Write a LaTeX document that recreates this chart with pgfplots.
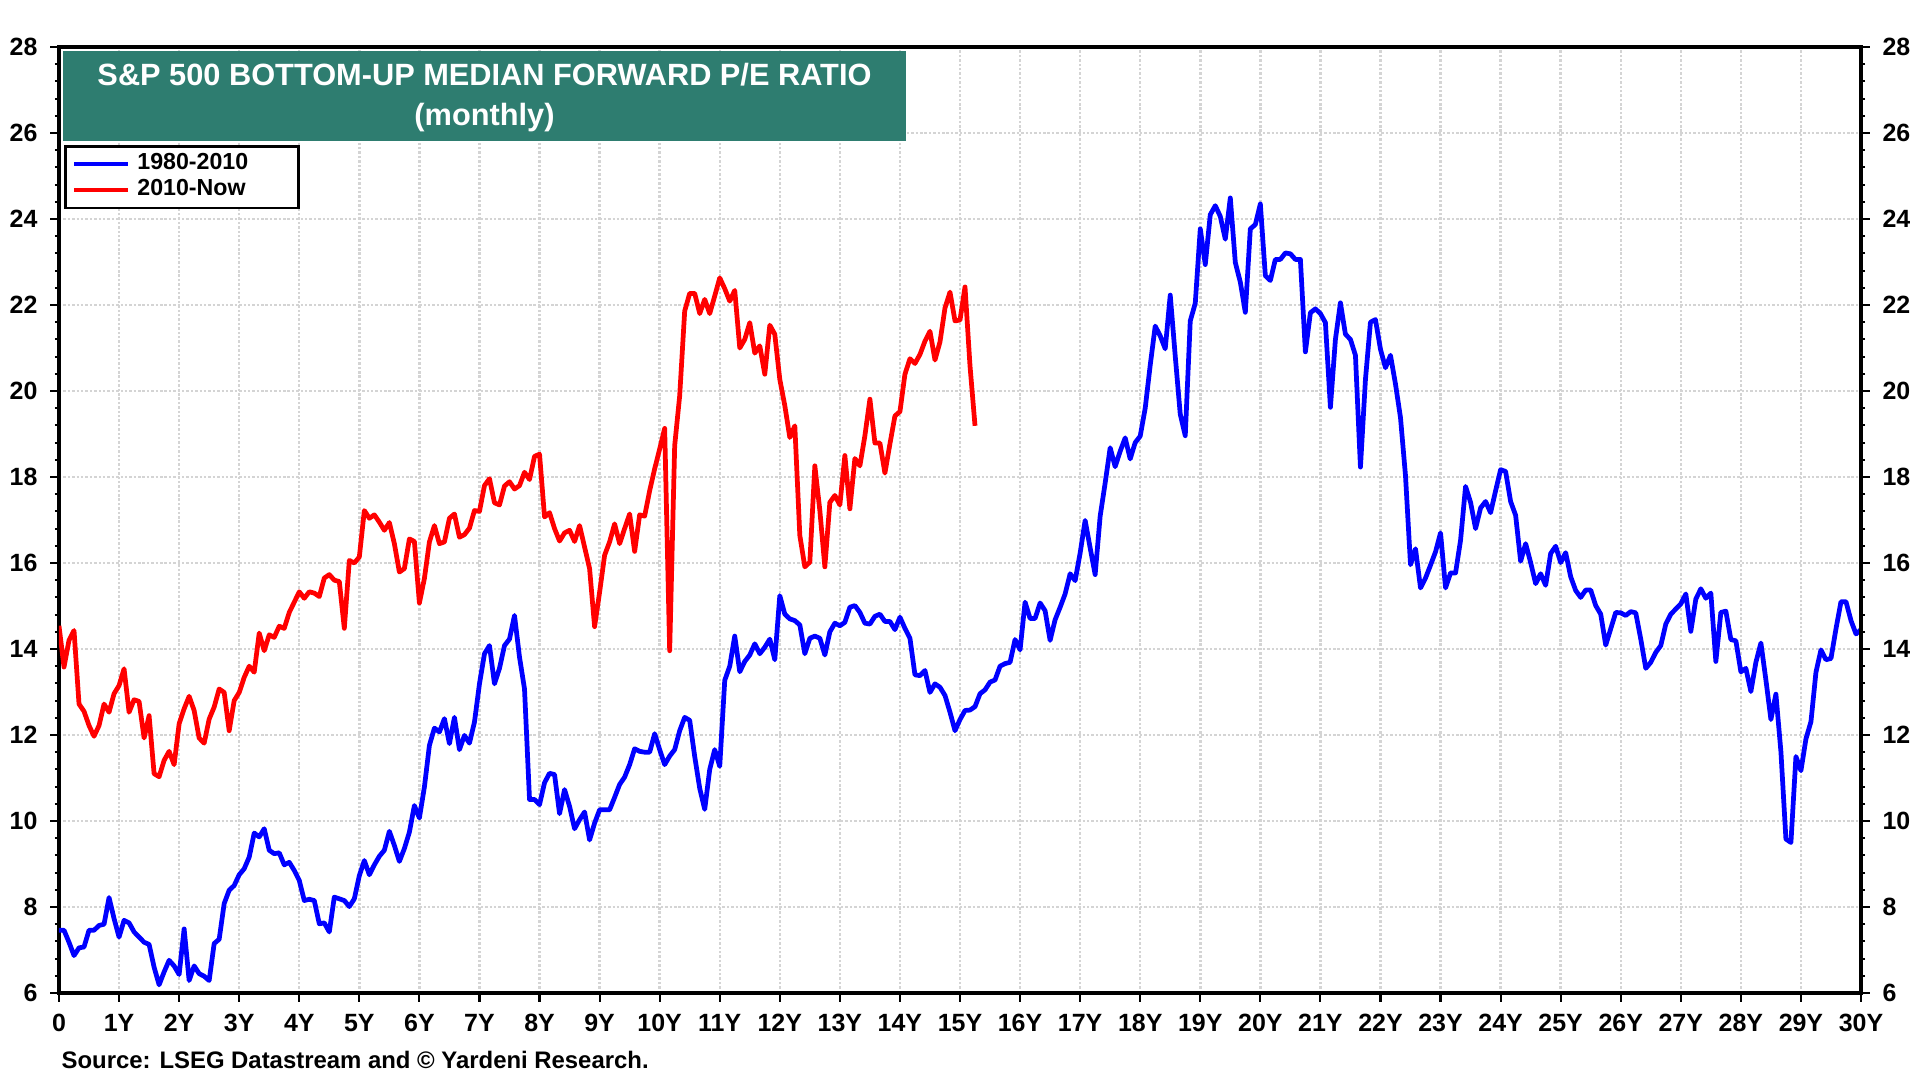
\documentclass[border=0pt]{standalone}
\usepackage{fontspec}
\setmainfont{Liberation Sans}
\usepackage{pgfplots}
\pgfplotsset{compat=1.18}
\definecolor{titlegreen}{RGB}{46,125,112}
\definecolor{gridgray}{RGB}{212,212,212}
\newcommand\tickfont{\bfseries\fontsize{7.1}{8}\selectfont}
\newcommand\legfont{\bfseries\fontsize{6.6}{7.7}\selectfont}
\newcommand\titlefont{\bfseries\fontsize{8.75}{10}\selectfont}

\pgfplotsset{
  peaxis/.style={
    at={(0,0)}, anchor=south west,
    scale only axis, width=18.02cm, height=9.46cm,
    xmin=0, xmax=360, ymin=6, ymax=28,
    ytick={6,8,...,28},
    yticklabels={6,8,10,12,14,16,18,20,22,24,26,28},
    minor y tick num=4,
    tick align=outside,
    major tick length=0.085cm, minor tick length=0.04cm,
    tick style={black, line width=0.6pt},
    axis line style={-, line width=1.2pt},
    tick label style={font=\tickfont},
    yticklabel style={inner xsep=3.5pt},
  }
}

\begin{document}
\begin{tikzpicture}
\useasboundingbox (-0.59,-0.87) rectangle (18.61,9.93);

\begin{axis}[peaxis,
  xtick={0,12,...,360},
  xticklabels={0,1Y,2Y,3Y,4Y,5Y,6Y,7Y,8Y,9Y,10Y,11Y,12Y,13Y,14Y,15Y,16Y,17Y,18Y,19Y,20Y,21Y,22Y,23Y,24Y,25Y,26Y,27Y,28Y,29Y,30Y},
  xtick pos=left, ytick pos=left,
  grid=major,
  major grid style={gridgray, line width=0.7pt, dash pattern=on 0.7pt off 0.55pt},
  legend style={at={(0.0028,0.8964)}, anchor=north west, draw=black,
    line width=0.8pt, fill=white, font=\legfont, inner xsep=2pt,
    inner ysep=0pt, row sep=-2.7pt, cells={anchor=west}},
  legend image code/.code={\draw[#1, line width=1.1pt] (0cm,0cm) -- (0.54cm,0cm);},
]
% 1980-2010, monthly
\addplot[blue, line width=1.35pt, line join=round] coordinates {
(0,7.46) (1,7.46) (2,7.18) (3,6.87) (4,7.05) (5,7.07) (6,7.46) (7,7.46) (8,7.57) (9,7.6)
(10,8.22) (11,7.73) (12,7.3) (13,7.69) (14,7.63) (15,7.42) (16,7.3) (17,7.18) (18,7.13) (19,6.6)
(20,6.19) (21,6.49) (22,6.76) (23,6.63) (24,6.43) (25,7.49) (26,6.29) (27,6.63) (28,6.45) (29,6.39)
(30,6.29) (31,7.15) (32,7.25) (33,8.08) (34,8.39) (35,8.5) (36,8.75) (37,8.89) (38,9.16) (39,9.72)
(40,9.63) (41,9.82) (42,9.32) (43,9.24) (44,9.26) (45,8.98) (46,9.04) (47,8.85) (48,8.62) (49,8.15)
(50,8.18) (51,8.15) (52,7.61) (53,7.63) (54,7.42) (55,8.23) (56,8.19) (57,8.15) (58,8.01) (59,8.19)
(60,8.73) (61,9.08) (62,8.75) (63,8.98) (64,9.18) (65,9.32) (66,9.76) (67,9.43) (68,9.06) (69,9.36)
(70,9.74) (71,10.36) (72,10.07) (73,10.79) (74,11.76) (75,12.16) (76,12.07) (77,12.38) (78,11.8) (79,12.41)
(80,11.66) (81,11.99) (82,11.81) (83,12.3) (84,13.19) (85,13.89) (86,14.08) (87,13.19) (88,13.55) (89,14.08)
(90,14.23) (91,14.78) (92,13.81) (93,13.07) (94,10.5) (95,10.5) (96,10.38) (97,10.89) (98,11.11) (99,11.08)
(100,10.17) (101,10.73) (102,10.34) (103,9.82) (104,10.03) (105,10.21) (106,9.56) (107,9.95) (108,10.26) (109,10.26)
(110,10.26) (111,10.55) (112,10.85) (113,11.02) (114,11.31) (115,11.68) (116,11.62) (117,11.6) (118,11.6) (119,12.03)
(120,11.66) (121,11.31) (122,11.51) (123,11.66) (124,12.1) (125,12.41) (126,12.34) (127,11.5) (128,10.76) (129,10.27)
(130,11.2) (131,11.66) (132,11.27) (133,13.27) (134,13.6) (135,14.3) (136,13.47) (137,13.71) (138,13.86) (139,14.12)
(140,13.89) (141,14.04) (142,14.23) (143,13.75) (144,15.24) (145,14.81) (146,14.7) (147,14.66) (148,14.56) (149,13.89)
(150,14.25) (151,14.3) (152,14.25) (153,13.86) (154,14.4) (155,14.6) (156,14.54) (157,14.62) (158,14.97) (159,15.01)
(160,14.85) (161,14.6) (162,14.58) (163,14.76) (164,14.81) (165,14.64) (166,14.64) (167,14.45) (168,14.74) (169,14.48)
(170,14.25) (171,13.4) (172,13.38) (173,13.5) (174,12.99) (175,13.19) (176,13.11) (177,12.92) (178,12.53) (179,12.1)
(180,12.36) (181,12.57) (182,12.58) (183,12.66) (184,12.96) (185,13.05) (186,13.23) (187,13.28) (188,13.6) (189,13.66)
(190,13.69) (191,14.22) (192,13.98) (193,15.09) (194,14.71) (195,14.71) (196,15.07) (197,14.89) (198,14.2) (199,14.68)
(200,14.97) (201,15.28) (202,15.75) (203,15.59) (204,16.23) (205,16.99) (206,16.35) (207,15.73) (208,17.09) (209,17.86)
(210,18.68) (211,18.24) (212,18.6) (213,18.91) (214,18.42) (215,18.8) (216,18.95) (217,19.6) (218,20.6) (219,21.51)
(220,21.28) (221,20.98) (222,22.23) (223,20.81) (224,19.46) (225,18.96) (226,21.63) (227,22.04) (228,23.77) (229,22.94)
(230,24.1) (231,24.31) (232,24.06) (233,23.53) (234,24.49) (235,22.99) (236,22.53) (237,21.83) (238,23.77) (239,23.87)
(240,24.35) (241,22.68) (242,22.57) (243,23.06) (244,23.06) (245,23.21) (246,23.19) (247,23.06) (248,23.06) (249,20.91)
(250,21.82) (251,21.91) (252,21.8) (253,21.59) (254,19.62) (255,21.2) (256,22.05) (257,21.32) (258,21.2) (259,20.83)
(260,18.23) (261,20.27) (262,21.6) (263,21.66) (264,20.97) (265,20.54) (266,20.83) (267,20.16) (268,19.38) (269,18.03)
(270,15.96) (271,16.33) (272,15.42) (273,15.65) (274,15.95) (275,16.26) (276,16.7) (277,15.42) (278,15.77) (279,15.77)
(280,16.53) (281,17.78) (282,17.41) (283,16.8) (284,17.28) (285,17.43) (286,17.17) (287,17.68) (288,18.17) (289,18.13)
(290,17.43) (291,17.11) (292,16.04) (293,16.45) (294,16.01) (295,15.52) (296,15.75) (297,15.48) (298,16.22) (299,16.39)
(300,16.01) (301,16.24) (302,15.68) (303,15.36) (304,15.2) (305,15.37) (306,15.37) (307,15.01) (308,14.81) (309,14.09)
(310,14.47) (311,14.85) (312,14.84) (313,14.78) (314,14.87) (315,14.84) (316,14.23) (317,13.55) (318,13.69) (319,13.92)
(320,14.08) (321,14.58) (322,14.81) (323,14.93) (324,15.05) (325,15.28) (326,14.41) (327,15.16) (328,15.4) (329,15.18)
(330,15.3) (331,13.71) (332,14.85) (333,14.88) (334,14.22) (335,14.19) (336,13.47) (337,13.55) (338,13.01) (339,13.69)
(340,14.14) (341,13.28) (342,12.36) (343,12.95) (344,11.61) (345,9.58) (346,9.5) (347,11.5) (348,11.17) (349,11.91)
(350,12.31) (351,13.46) (352,13.98) (353,13.75) (354,13.78) (355,14.47) (356,15.1) (357,15.1) (358,14.66) (359,14.35)
(360,14.45)
};
\addlegendentry{1980-2010\rule{0.36cm}{0pt}}
% 2010-now, monthly
\addplot[red, line width=1.35pt, line join=round] coordinates {
(0,14.54) (1,13.58) (2,14.2) (3,14.43) (4,12.72) (5,12.55) (6,12.22) (7,11.97) (8,12.22) (9,12.72)
(10,12.53) (11,12.96) (12,13.15) (13,13.54) (14,12.53) (15,12.82) (16,12.78) (17,11.93) (18,12.45) (19,11.1)
(20,11.03) (21,11.41) (22,11.62) (23,11.31) (24,12.26) (25,12.61) (26,12.9) (27,12.57) (28,11.93) (29,11.81)
(30,12.37) (31,12.65) (32,13.07) (33,12.99) (34,12.1) (35,12.8) (36,12.99) (37,13.34) (38,13.6) (39,13.46)
(40,14.37) (41,13.96) (42,14.33) (43,14.27) (44,14.53) (45,14.48) (46,14.85) (47,15.09) (48,15.33) (49,15.18)
(50,15.33) (51,15.3) (52,15.22) (53,15.65) (54,15.73) (55,15.6) (56,15.57) (57,14.48) (58,16.06) (59,16.0)
(60,16.14) (61,17.22) (62,17.04) (63,17.12) (64,16.95) (65,16.76) (66,16.94) (67,16.45) (68,15.79) (69,15.87)
(70,16.56) (71,16.5) (72,15.07) (73,15.64) (74,16.49) (75,16.87) (76,16.45) (77,16.49) (78,17.04) (79,17.14)
(80,16.6) (81,16.66) (82,16.81) (83,17.22) (84,17.2) (85,17.8) (86,17.96) (87,17.4) (88,17.35) (89,17.79)
(90,17.89) (91,17.72) (92,17.8) (93,18.11) (94,17.94) (95,18.48) (96,18.53) (97,17.07) (98,17.17) (99,16.8)
(100,16.51) (101,16.7) (102,16.76) (103,16.5) (104,16.87) (105,16.37) (106,15.87) (107,14.52) (108,15.32) (109,16.18)
(110,16.49) (111,16.91) (112,16.45) (113,16.8) (114,17.14) (115,16.27) (116,17.12) (117,17.09) (118,17.68) (119,18.19)
(120,18.65) (121,19.13) (122,13.96) (123,18.73) (124,19.89) (125,21.86) (126,22.27) (127,22.27) (128,21.8) (129,22.13)
(130,21.8) (131,22.21) (132,22.63) (133,22.38) (134,22.09) (135,22.34) (136,21.0) (137,21.2) (138,21.59) (139,20.88)
(140,21.05) (141,20.39) (142,21.53) (143,21.32) (144,20.27) (145,19.66) (146,18.92) (147,19.19) (148,16.64) (149,15.91)
(150,16.02) (151,18.26) (152,17.22) (153,15.91) (154,17.41) (155,17.57) (156,17.35) (157,18.5) (158,17.26) (159,18.43)
(160,18.26) (161,18.96) (162,19.81) (163,18.79) (164,18.79) (165,18.09) (166,18.77) (167,19.42) (168,19.52) (169,20.39)
(170,20.75) (171,20.64) (172,20.85) (173,21.16) (174,21.39) (175,20.72) (176,21.14) (177,21.93) (178,22.3) (179,21.63)
(180,21.65) (181,22.42) (182,20.58) (183,19.19)
};
\addlegendentry{2010-Now}
\end{axis}

% right-hand tick labels
\begin{axis}[peaxis, axis x line=none, axis y line*=right,
  ytick pos=right, yticklabel pos=right]
\end{axis}

% title box
\fill[titlegreen] (0.04,8.52) rectangle (8.47,9.42);
\node[text=white, font=\titlefont] at (4.255,9.18) {S\&P 500 BOTTOM-UP MEDIAN FORWARD P/E RATIO};
\node[text=white, font=\titlefont] at (4.255,8.75) {(monthly)};

\node[anchor=west, inner sep=0pt, font=\bfseries\fontsize{6.8}{8}\selectfont]
  at (0.02,-0.67) {Source: LSEG Datastream and © Yardeni Research.};
\end{tikzpicture}
\end{document}
